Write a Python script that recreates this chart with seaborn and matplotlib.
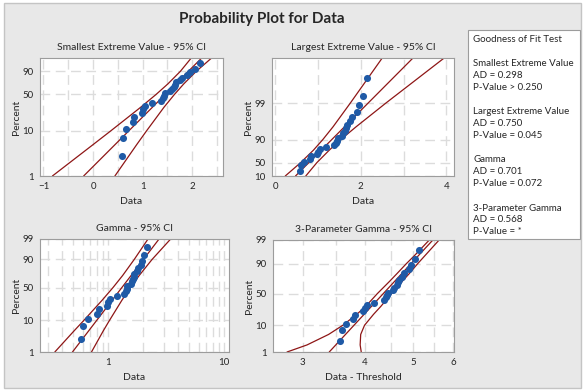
import warnings
from statistics import NormalDist
import numpy as np
import matplotlib
matplotlib.use("Agg")
import matplotlib.pyplot as plt
from matplotlib.patches import Rectangle
from matplotlib.ticker import NullFormatter
import seaborn as sns

warnings.filterwarnings("ignore")

# Sorted sample values
data = [0.58, 0.61, 0.67, 0.80, 0.83, 0.98, 1.00, 1.04, 1.18, 1.37, 1.42, 1.44,
        1.46, 1.56, 1.59, 1.64, 1.66, 1.68, 1.75, 1.80, 1.90, 1.96, 2.05, 2.15]
threshold = -2.99

# Fitted lines (x at 1% and 99%) and 95% CI bounds
fit_pct = [1, 99]
sev_pct = [1, 5, 10, 30, 50, 70, 90, 99]
sev_fit = [-0.19, 2.19]
sev_lo = [-0.82, 0.00, 0.36, 0.96, 1.27, 1.51, 1.76, 1.98]
sev_hi = [0.44, 0.88, 1.08, 1.43, 1.64, 1.83, 2.08, 2.39]

lev_pct = [1, 10, 30, 50, 70, 90, 95, 99]
lev_fit = [0.47, 3.22]
lev_lo = [0.23, 0.59, 0.89, 1.11, 1.35, 1.75, 1.98, 2.50]
lev_hi = [0.71, 0.97, 1.26, 1.53, 1.89, 2.58, 3.00, 3.95]

gam_shape = 8
gam_pct = [1, 5, 10, 30, 50, 70, 90, 99]
gam_fit = [0.49, 2.74]
gam_lo = [0.345, 0.506, 0.614, 0.882, 1.097, 1.328, 1.675, 2.20]
gam_hi = [0.715, 0.904, 1.022, 1.307, 1.550, 1.845, 2.388, 3.45]

g3_shape = 95
g3_pct = [1, 2, 5, 10, 20, 30, 50, 70, 80, 90, 95, 99]
g3_fit = [3.39, 5.47]
g3_lo = [2.79, 3.06, 3.38, 3.61, 3.85, 4.01, 4.23, 4.48, 4.63, 4.84, 5.03, 5.38]
g3_hi = [3.93, 3.91, 3.92, 3.99, 4.16, 4.30, 4.52, 4.75, 4.90, 5.10, 5.28, 5.63]

# Goodness of fit text
gof_names = ["Smallest Extreme Value", "Largest Extreme Value", "Gamma", "3-Parameter Gamma"]
gof_ad = ["0.298", "0.750", "0.701", "0.568"]
gof_p = ["> 0.250", "= 0.045", "= 0.072", "= *"]

blue = "#1f5aa6"
red = "#8e1616"

# median rank plotting positions
n = len(data)
ranks = np.arange(1, n + 1)
pct = (ranks - 0.3) / (n + 0.4) * 100

norm = NormalDist()
ppf = np.vectorize(lambda q: norm.inv_cdf(min(max(q, 1e-9), 1 - 1e-9)) if np.isfinite(q) else np.nan,
                   otypes=[float])
cdf = np.vectorize(lambda z: norm.cdf(z) if not np.isnan(z) else np.nan, otypes=[float])


def sev_funcs():
    def fwd(p):
        p = np.clip(np.asarray(p, float) / 100, 1e-9, 1 - 1e-9)
        return np.log(-np.log(1 - p))

    def inv(t):
        return 100 * (1 - np.exp(-np.exp(np.asarray(t, float))))
    return fwd, inv


def lev_funcs():
    def fwd(p):
        p = np.clip(np.asarray(p, float) / 100, 1e-9, 1 - 1e-9)
        return -np.log(-np.log(p))

    def inv(t):
        return 100 * np.exp(-np.exp(-np.asarray(t, float)))
    return fwd, inv


def gamma_funcs(k):
    c = 1 - 1 / (9 * k)
    d = 1 / (3 * np.sqrt(k))

    def fwd(p):
        z = ppf(np.asarray(p, float) / 100)
        return 3 * np.log(np.clip(c + d * z, 1e-9, None))

    def inv(t):
        z = (np.exp(np.asarray(t, float) / 3) - c) / d
        return 100 * cdf(z)
    return fwd, inv


sns.set_style("white")
plt.rcParams["font.family"] = ["Lato", "DejaVu Sans"]

fig = plt.figure(figsize=(5.84, 3.91), dpi=100)
fig.patch.set_facecolor("white")
fig.patches.append(Rectangle((4 / 584, 3 / 391), 577 / 584, 385 / 391, transform=fig.transFigure,
                             facecolor="#e8e8e8", edgecolor="#c4c4c4", lw=1, zorder=-10))

fig.text(262 / 584, 1 - 19 / 391, "Probability Plot for Data", ha="center", va="center",
         fontsize=11, fontweight="bold")

ax1 = fig.add_axes([40 / 584, 1 - 176 / 391, 183 / 584, 118 / 391])
ax2 = fig.add_axes([272 / 584, 1 - 176 / 391, 182 / 584, 118 / 391])
ax3 = fig.add_axes([40 / 584, 1 - 352 / 391, 189 / 584, 113 / 391])
ax4 = fig.add_axes([273 / 584, 1 - 352 / 391, 181 / 584, 112 / 391])

ax1.set_yscale("function", functions=sev_funcs())
ax2.set_yscale("function", functions=lev_funcs())
ax3.set_yscale("function", functions=gamma_funcs(gam_shape))
ax4.set_yscale("function", functions=gamma_funcs(g3_shape))
ax3.set_xscale("log")
ax4.set_xscale("log")

panels = [
    (ax1, "Smallest Extreme Value - 95% CI", "Data", data, sev_fit, sev_pct, sev_lo, sev_hi),
    (ax2, "Largest Extreme Value - 95% CI", "Data", data, lev_fit, lev_pct, lev_lo, lev_hi),
    (ax3, "Gamma - 95% CI", "Data", data, gam_fit, gam_pct, gam_lo, gam_hi),
    (ax4, "3-Parameter Gamma - 95% CI", "Data - Threshold", [v - threshold for v in data],
     g3_fit, g3_pct, g3_lo, g3_hi),
]

for ax, title, xlabel, xs, fit, band_pct, lo, hi in panels:
    for xb in (lo, hi):
        sns.lineplot(x=xb, y=band_pct, sort=False, estimator=None, color=red, lw=0.9, ax=ax)
    sns.lineplot(x=fit, y=fit_pct, sort=False, estimator=None, color=red, lw=0.9, ax=ax)
    sns.scatterplot(x=xs, y=pct, color=blue, marker="o", s=26, linewidth=0, ax=ax, zorder=5)
    ax.set_ylim(1, 99)
    ax.set_title(title, fontsize=7.5, pad=6)
    ax.set_xlabel(xlabel, fontsize=7.5, labelpad=4)
    ax.set_ylabel("Percent", fontsize=7.5, labelpad=1)
    ax.set_facecolor("white")
    for s in ax.spines.values():
        s.set_color("#9c9c9c")
        s.set_linewidth(0.8)
    ax.tick_params(which="major", labelsize=7, length=3, width=0.6, color="#666666", pad=1.5)
    ax.tick_params(which="minor", length=0)
    ax.xaxis.set_minor_formatter(NullFormatter())
    ax.yaxis.set_minor_formatter(NullFormatter())
    ax.grid(which="both", color="#dcdcdc", lw=1.0, ls=(0, (7, 4)))
    ax.set_axisbelow(True)

# axis ticks
ax1.set_xlim(-1.07, 2.62)
ax1.set_xticks([-1, 0, 1, 2])
ax1.set_xticks([-0.5, 0.5, 1.5, 2.5], minor=True)
ax1.set_yticks([1, 10, 50, 90])
ax1.set_yticklabels(["1", "10", "50", "90"])
ax1.set_yticks([], minor=True)

ax2.set_xlim(-0.08, 4.18)
ax2.set_xticks([0, 2, 4])
ax2.set_xticks([1, 3], minor=True)
ax2.set_yticks([1, 10, 50, 90])
ax2.set_yticklabels(["10", "50", "90", "99"])
ax2.set_yticks([], minor=True)

ax3.set_xlim(0.257, 11)
ax3.set_xticks([1, 10])
ax3.set_xticklabels(["1", "10"])
ax3.set_xticks([0.3, 0.4, 0.5, 0.6, 0.7, 0.8, 0.9, 2, 3, 4, 5, 6, 7, 8, 9], minor=True)
ax3.set_yticks([1, 10, 50, 90, 99])
ax3.set_yticklabels(["1", "10", "50", "90", "99"])
ax3.set_yticks([], minor=True)

ax4.set_xlim(2.615, 6.03)
ax4.set_xticks([3, 4, 5, 6])
ax4.set_xticklabels(["3", "4", "5", "6"])
ax4.set_xticks([3.5, 4.5, 5.5], minor=True)
ax4.set_yticks([1, 10, 50, 90, 99])
ax4.set_yticklabels(["1", "10", "50", "90", "99"])
ax4.set_yticks([], minor=True)

# goodness of fit box
fig.patches.append(Rectangle((468 / 584, 1 - 239 / 391), 112 / 584, 209 / 391, transform=fig.transFigure,
                             facecolor="white", edgecolor="#9c9c9c", lw=0.8))
lines = ["Goodness of Fit Test", ""]
for name, ad, pv in zip(gof_names, gof_ad, gof_p):
    lines += [name, "AD = " + ad, "P-Value " + pv, ""]
for i, line in enumerate(lines[:-1]):
    fig.text(473 / 584, 1 - (40 + 12 * i) / 391, line, fontsize=7, va="center", ha="left")

fig.savefig("out.png", dpi=100, facecolor=fig.get_facecolor())
